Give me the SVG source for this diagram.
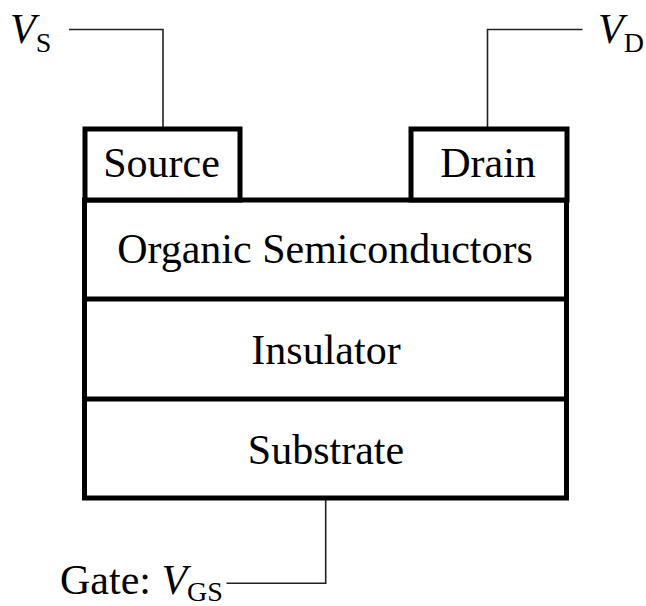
<svg xmlns="http://www.w3.org/2000/svg" width="646" height="606" viewBox="0 0 646 606">
  <style>
    .layer { fill: #ffffff; stroke: #000000; stroke-width: 5; }
    .divider { fill: none; stroke: #000000; stroke-width: 5; }
    .lead { fill: none; stroke: #222222; stroke-width: 1.6; }
    .name { font-family: "Liberation Serif", "Times New Roman", serif; font-size: 42px; fill: #000000; text-anchor: middle; }
    .lbl { font-family: "Liberation Serif", "Times New Roman", serif; font-size: 42px; fill: #000000; }
    .it { font-style: italic; }
    .sub { font-size: 28px; }
  </style>
  <rect width="646" height="606" fill="#ffffff"/>

  <!-- terminal leads -->
  <g id="connectors">
    <polyline class="lead" points="69,29.5 163,29.5 163,129"/>
    <polyline class="lead" points="582.5,29.5 487.5,29.5 487.5,129"/>
    <polyline class="lead" points="325.7,498 325.7,583.3 226.5,583.3"/>
  </g>

  <!-- device stack -->
  <g id="stack">
    <rect class="layer" x="84.5" y="200" width="482" height="298"/>
  </g>
  <g id="semiconductor">
    <text class="name" x="325" y="263">Organic Semiconductors</text>
  </g>
  <g id="insulator">
    <line class="divider" x1="84.5" y1="299" x2="566.5" y2="299"/>
    <text class="name" x="326" y="364">Insulator</text>
  </g>
  <g id="substrate">
    <line class="divider" x1="84.5" y1="399" x2="566.5" y2="399"/>
    <text class="name" x="326" y="463.5">Substrate</text>
  </g>

  <!-- contacts -->
  <g id="source">
    <rect class="layer" x="85" y="129" width="155" height="71"/>
    <text class="name" x="161.5" y="177">Source</text>
  </g>
  <g id="drain">
    <rect class="layer" x="411" y="129" width="156" height="71"/>
    <text class="name" x="488" y="177">Drain</text>
  </g>

  <!-- terminal labels -->
  <g id="label-vs">
    <text class="lbl" x="10" y="42.7"><tspan class="it">V</tspan><tspan class="sub" dy="9">S</tspan></text>
  </g>
  <g id="label-vd">
    <text class="lbl" x="598" y="42.7"><tspan class="it">V</tspan><tspan class="sub" dy="9">D</tspan></text>
  </g>
  <g id="label-gate">
    <text class="lbl" x="60" y="594"><tspan>Gate: </tspan><tspan class="it">V</tspan><tspan class="sub" dy="7">GS</tspan></text>
  </g>
</svg>
